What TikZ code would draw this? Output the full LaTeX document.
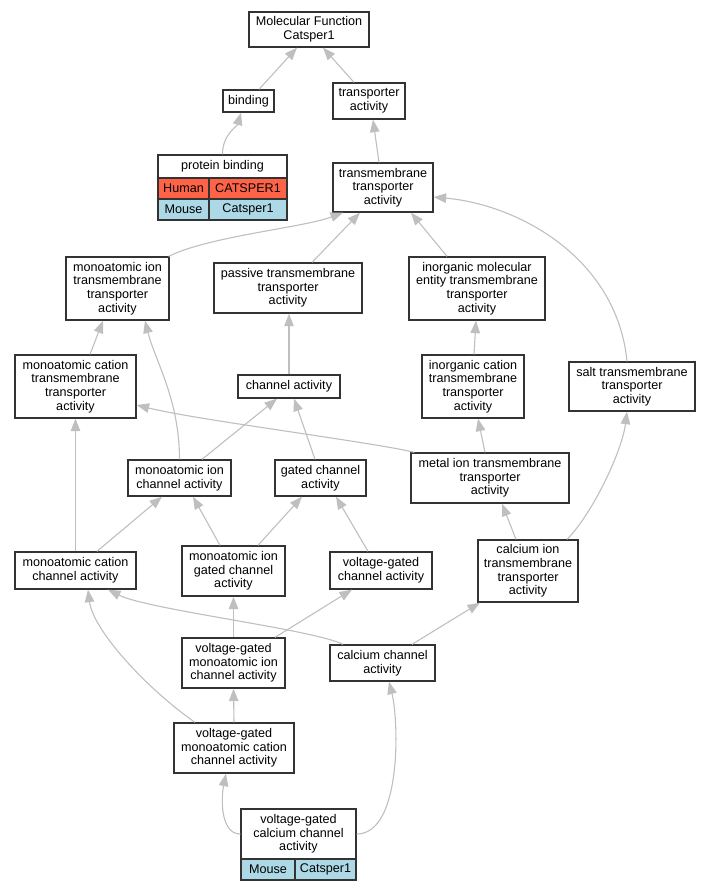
\documentclass[tikz,border=0pt]{standalone}
\usepackage{fontspec}
\setmainfont{Liberation Sans}
\usepackage{tikz}
\usetikzlibrary{arrows.meta,positioning,shapes}
\definecolor{tomato}{RGB}{255,99,71}
\definecolor{lightblue}{RGB}{173,216,230}
\newcommand{\gofont}{\fontsize{12.6}{13.6}\selectfont}
\tikzstyle{goterm}=[
	rectangle,
	draw=black!80,
	line width=1.3,
	fill=white,
	align=center,
	inner sep=0,
	font=\gofont]
\tikzstyle{human}=[
	goterm,
	fill=tomato]
\tikzstyle{mouse}=[
	goterm,
	fill=lightblue]
\tikzstyle{isa}=[
	->,
	draw=black!25,
	line width=1.1]

\begin{document}
\begin{tikzpicture}[x=1pt,y=-1pt,>={Triangle[length=12.5pt,width=9.5pt]}]
	\useasboundingbox (0,0) rectangle (711,891);
	\node[goterm,minimum width=120,minimum height=35]	(mf)	at (309,29.5)	{Molecular Function\\Catsper1};
	\node[goterm,minimum width=51,minimum height=22]	(bind)	at (248.5,101)	{binding};
	\node[goterm,minimum width=72,minimum height=36]	(tra)	at (369,101)	{transporter\\activity};
	\node[goterm,minimum width=129,minimum height=23]	(pb)	at (222.5,166.5)	{protein binding};
	\node[human,minimum width=51,minimum height=21]	(pbh)	at (183.5,188.5)	{Human};
	\node[human,minimum width=78,minimum height=21]	(pbhg)	at (248,188.5)	{CATSPER1};
	\node[mouse,minimum width=51,minimum height=21]	(pbm)	at (183.5,209.5)	{Mouse};
	\node[mouse,minimum width=78,minimum height=21]	(pbmg)	at (248,209.5)	{Catsper1};
	\node[goterm,minimum width=100,minimum height=49]	(tmt)	at (383,187.5)	{transmembrane\\transporter\\activity};
	\node[goterm,minimum width=103,minimum height=63]	(mitm)	at (117.5,288.5)	{monoatomic ion\\transmembrane\\transporter\\activity};
	\node[goterm,minimum width=148,minimum height=50]	(pas)	at (288,288)	{passive transmembrane\\transporter\\activity};
	\node[goterm,minimum width=136,minimum height=63]	(imtm)	at (477,288.5)	{inorganic molecular\\entity transmembrane\\transporter\\activity};
	\node[goterm,minimum width=121,minimum height=63]	(mctm)	at (75.5,386.5)	{monoatomic cation\\transmembrane\\transporter\\activity};
	\node[goterm,minimum width=102,minimum height=23]	(chan)	at (289,386.5)	{channel activity};
	\node[goterm,minimum width=102,minimum height=63]	(ictm)	at (473,386.5)	{inorganic cation\\transmembrane\\transporter\\activity};
	\node[goterm,minimum width=126,minimum height=49]	(salt)	at (632,386.5)	{salt transmembrane\\transporter\\activity};
	\node[goterm,minimum width=103,minimum height=36]	(mich)	at (179.5,478)	{monoatomic ion\\channel activity};
	\node[goterm,minimum width=91,minimum height=36]	(gch)	at (320.5,478)	{gated channel\\activity};
	\node[goterm,minimum width=158,minimum height=50]	(metal)	at (490,478)	{metal ion transmembrane\\transporter\\activity};
	\node[goterm,minimum width=121,minimum height=37]	(mcch)	at (75.5,570.5)	{monoatomic cation\\channel activity};
	\node[goterm,minimum width=103,minimum height=50]	(migch)	at (233.5,571)	{monoatomic ion\\gated channel\\activity};
	\node[goterm,minimum width=102,minimum height=37]	(vgch)	at (381,570.5)	{voltage-gated\\channel activity};
	\node[goterm,minimum width=100,minimum height=62]	(catm)	at (528,571)	{calcium ion\\transmembrane\\transporter\\activity};
	\node[goterm,minimum width=103,minimum height=50]	(vgmi)	at (233.5,663)	{voltage-gated\\monoatomic ion\\channel activity};
	\node[goterm,minimum width=105,minimum height=36]	(cach)	at (382.5,663)	{calcium channel\\activity};
	\node[goterm,minimum width=120,minimum height=50]	(vgmc)	at (234,748)	{voltage-gated\\monoatomic cation\\channel activity};
	\node[goterm,minimum width=115,minimum height=50]	(vgca)	at (298.5,834)	{voltage-gated\\calcium channel\\activity};
	\node[mouse,minimum width=54,minimum height=21]	(vgcam)	at (268,869.5)	{Mouse};
	\node[mouse,minimum width=61,minimum height=21]	(vgcag)	at (325.5,869.5)	{Catsper1};

	\draw[isa]	([xshift=10.5]bind.north) -- ([xshift=-12]mf.south);
	\draw[isa]	([xshift=-15]tra.north) -- ([xshift=14]mf.south);
	\draw[isa]	(pb.north) .. controls +(0,-20) and +(-4,14) .. ([xshift=-7.5]bind.south);
	\draw[isa]	([xshift=-4]tmt.north) -- ([xshift=4]tra.south);
	\draw[isa]	([xshift=-1]mitm.north east) .. controls +(40,-20) and +(-40,15) .. ([xshift=-40]tmt.south);
	\draw[isa]	([xshift=24]pas.north) -- ([xshift=-23]tmt.south);
	\draw[isa]	([xshift=-30]imtm.north) -- ([xshift=28]tmt.south);
	\draw[isa]	([xshift=-5]salt.north) .. controls +(-10,-102) and +(87,8) .. ([yshift=-9.5]tmt.east);
	\draw[isa]	([xshift=14.5]mctm.north) -- ([xshift=-14.5]mitm.south);
	\draw[isa]	([xshift=1]ictm.north) -- ([xshift=-1]imtm.south);
	\draw[isa]	(chan.north) -- ([xshift=1]pas.south);
	\draw[isa]	([xshift=22.5]mich.north) -- ([xshift=-12]chan.south);
	\draw[isa]	(mich.north) .. controls +(0,-60) and +(10,40) .. ([xshift=27.5]mitm.south);
	\draw[isa]	([xshift=-5.5]gch.north) -- ([xshift=5]chan.south);
	\draw[isa]	([xshift=4]metal.north west) .. controls +(-40,-10) and +(60,15) .. ([yshift=-18.5]mctm.east);
	\draw[isa]	([xshift=-5]metal.north) -- ([xshift=5]ictm.south);
	\draw[isa]	(mcch.north) -- (mctm.south);
	\draw[isa]	([xshift=21.5]mcch.north) -- ([xshift=-17.5]mich.south);
	\draw[isa]	([xshift=-13.5]migch.north) -- ([xshift=13.5]mich.south);
	\draw[isa]	([xshift=24.5]migch.north) -- ([xshift=-18.5]gch.south);
	\draw[isa]	([xshift=-13]vgch.north) -- ([xshift=15.5]gch.south);
	\draw[isa]	([xshift=-12]catm.north) -- ([xshift=12]metal.south);
	\draw[isa]	([xshift=39]catm.north) .. controls +(25,-25) and +(-5,40) .. ([xshift=-5]salt.south);
	\draw[isa]	(vgmi.north) -- (migch.south);
	\draw[isa]	([xshift=41.5]vgmi.north) -- ([xshift=-29]vgch.south);
	\draw[isa]	([xshift=-39.5]cach.north) .. controls +(-30,-15) and +(40,20) .. ([xshift=32.5]mcch.south);
	\draw[isa]	([xshift=29.5]cach.north) -- ([xshift=-48]catm.south);
	\draw[isa]	([xshift=-39]vgmc.north) .. controls +(-50,-35) and +(5,40) .. ([xshift=12.5]mcch.south);
	\draw[isa]	(vgmc.north) -- (vgmi.south);
	\draw[isa]	(vgca.west) .. controls +(-20,0) and +(-5,25) .. ([xshift=-8]vgmc.south);
	\draw[isa]	(vgca.east) .. controls +(45,0) and +(10,40) .. ([xshift=6.5]cach.south);
\end{tikzpicture}
\end{document}
